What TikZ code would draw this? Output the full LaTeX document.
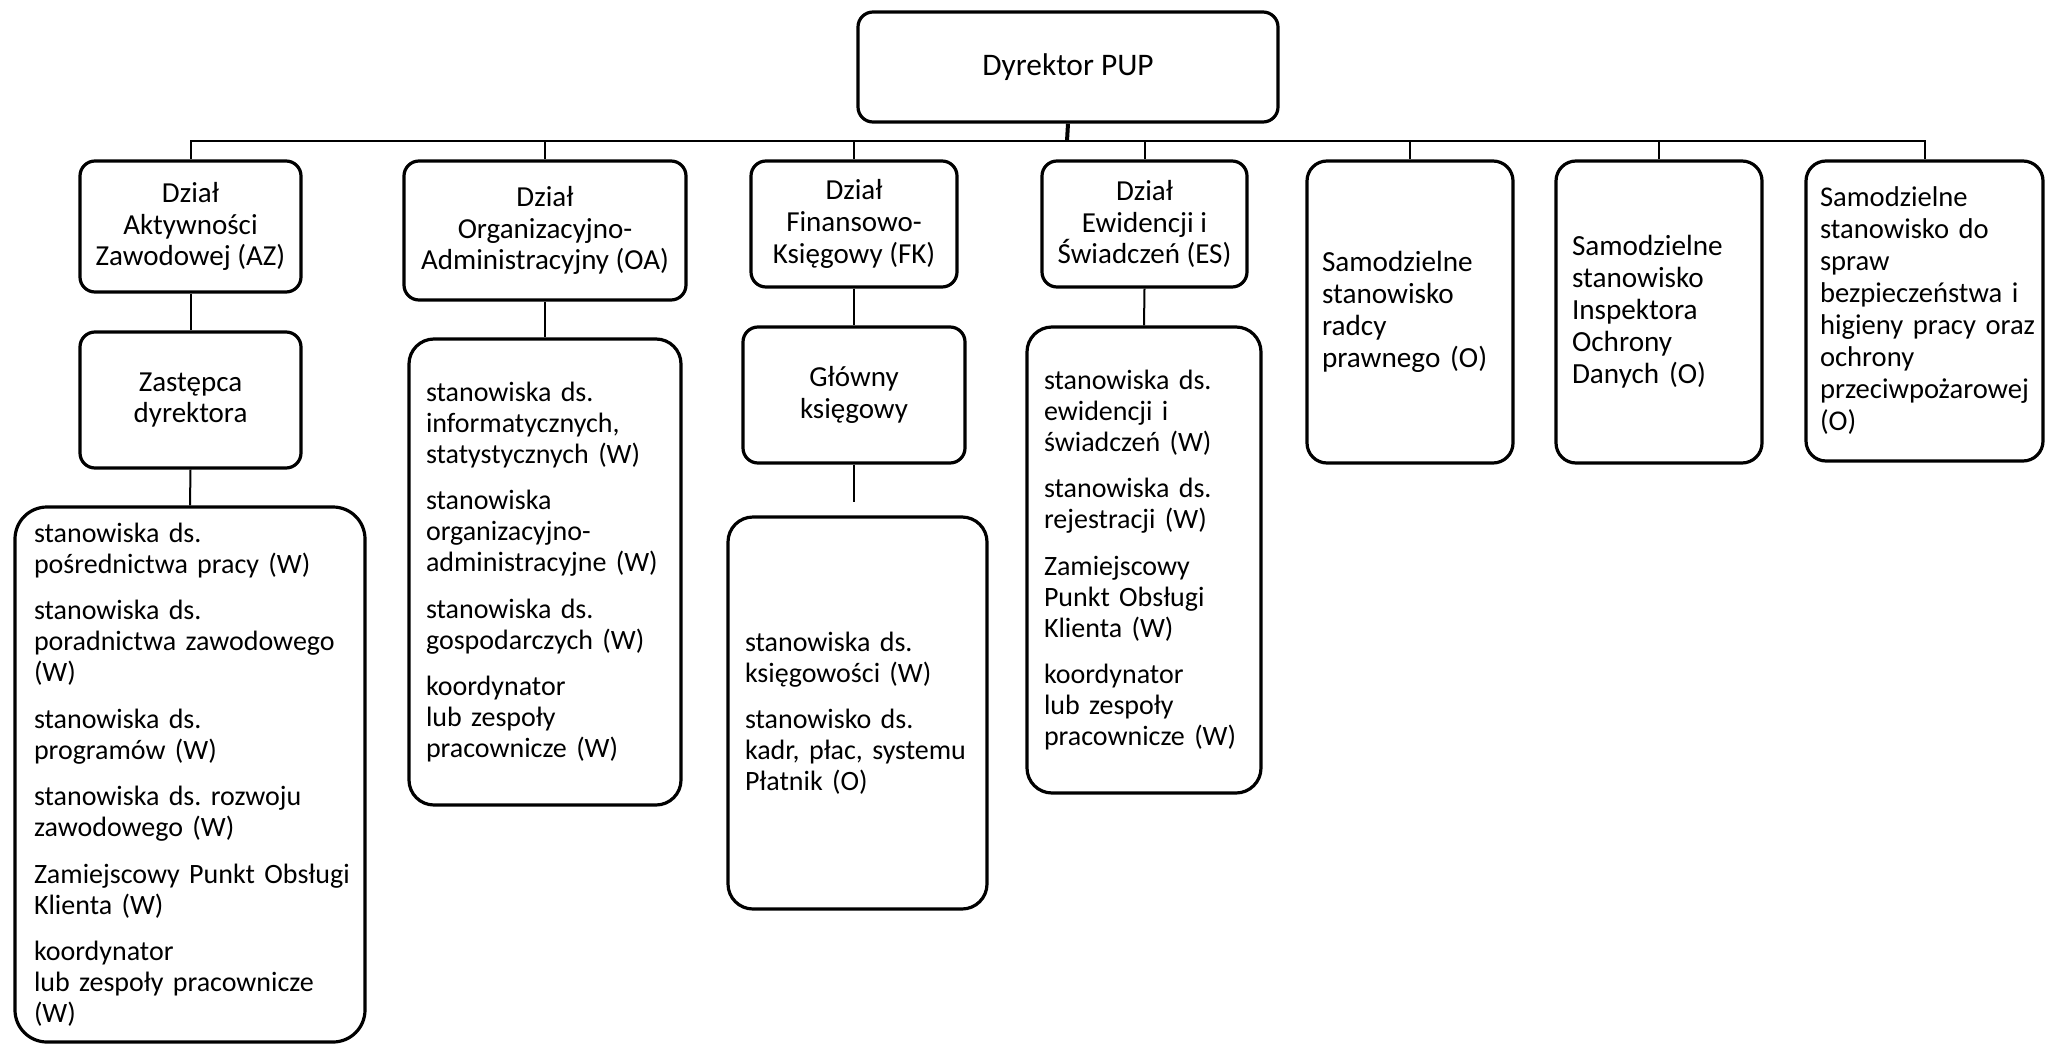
\documentclass[tikz,border=0pt]{standalone}
\usepackage{fontspec}
\setmainfont{Carlito}
\frenchspacing
\begin{document}
\begin{tikzpicture}[x=0.5pt,y=-0.5pt,
    every node/.style={font=\fontsize{14.5pt}{15.9pt}\selectfont},
    box/.style={draw, line width=1.6pt, rounded corners=7.5pt, align=center, inner sep=0pt},
    listbox/.style={box, align=left, inner xsep=8.5pt, rounded corners=12.5pt,
        font=\fontsize{14pt}{15.5pt}\selectfont,
        execute at begin node={\hyphenpenalty=10000\hfuzz=30pt\hbadness=10000}},
    lonebox/.style={listbox, rounded corners=10pt, font=\fontsize{14.6pt}{16pt}\selectfont},
    conn/.style={line width=1pt}]
    \useasboundingbox (0,0) rectangle (2045,1044);
    \node [box, minimum width=210pt, minimum height=55pt, font=\fontsize{15.7pt}{17pt}\selectfont] (dyr) at (1068,67) {Dyrektor PUP};
    \node [box, minimum width=110.5pt, minimum height=65.5pt] (azd) at (190.5,226.5) {Dział\\Aktywności\\Zawodowej~(AZ)};
    \node [box, minimum width=110.5pt, minimum height=68pt] (azz) at (190.5,400) {Zastępca\\dyrektora};
    \node [listbox, rounded corners=16pt, text width=156pt, minimum height=267.5pt, inner xsep=9.5pt] (azl) at (190,774.5)
        {stanowiska ds.\\pośrednictwa~pracy~(W)\\[7.75pt]
         stanowiska ds.\\poradnictwa~zawodowego\\(W)\\[7.75pt]
         stanowiska ds.\\programów (W)\\[7.75pt]
         stanowiska~ds.~rozwoju\\zawodowego (W)\\[7.75pt]
         Zamiejscowy~Punkt~Obsługi\\Klienta (W)\\[7.75pt]
         koordynator\\lub~zespoły~pracownicze\\(W)};
    \node [box, minimum width=141pt, minimum height=69.5pt] (oad) at (545,230.5) {Dział\\Organizacyjno-\\Administracyjny~(OA)};
    \node [listbox, text width=119pt, minimum height=233pt] (oal) at (545,572)
        {stanowiska ds.\\informatycznych,\\statystycznych~(W)\\[7.75pt]
         stanowiska\\organizacyjno-\\administracyjne~(W)\\[7.75pt]
         stanowiska ds.\\gospodarczych~(W)\\[7.75pt]
         koordynator\\lub zespoły\\pracownicze~(W)};
    \node [box, minimum width=103pt, minimum height=63pt] (fkd) at (854,224) {Dział\\Finansowo-\\Księgowy~(FK)};
    \node [box, minimum width=111pt, minimum height=68pt] (fkg) at (854,395) {Główny\\księgowy};
    \coordinate (fkend) at (854,502);
    \node [listbox, text width=112.5pt, minimum height=196pt] (fkl) at (857.5,713)
        {stanowiska ds.\\księgowości~(W)\\[7.75pt]
         stanowisko ds.\\kadr,~płac,~systemu\\Płatnik (O)};
    \node [box, minimum width=102.5pt, minimum height=63pt] (esd) at (1144.5,224) {Dział\\Ewidencji~i\\Świadczeń~(ES)};
    \node [listbox, text width=100pt, minimum height=233pt] (esl) at (1144,560)
        {stanowiska~ds.\\ewidencji~i\\świadczeń~(W)\\[7.75pt]
         stanowiska~ds.\\rejestracji~(W)\\[7.75pt]
         Zamiejscowy\\Punkt~Obsługi\\Klienta~(W)\\[7.75pt]
         koordynator\\lub~zespoły\\pracownicze~(W)};
    \node [lonebox, text width=88pt, minimum height=151pt, inner xsep=7.5pt] (rad) at (1410,312)
        {Samodzielne\\stanowisko\\radcy\\prawnego~(O)};
    \node [lonebox, text width=87pt, minimum height=151pt, inner xsep=8pt] (ins) at (1659,312)
        {Samodzielne\\stanowisko\\Inspektora\\Ochrony\\Danych~(O)};
    \node [lonebox, text width=104.5pt, minimum height=150pt, inner xsep=7pt, font=\fontsize{14.3pt}{16pt}\selectfont] (bhp) at (1924.5,311)
        {Samodzielne\\stanowisko~do\\spraw\\bezpieczeństwa~i\\higieny~pracy~oraz\\ochrony\\przeciwpożarowej\\(O)};
    \coordinate (bus) at (1067,141);
    \draw [line width=2pt] (dyr.south) -- (bus);
    \foreach \n in {azd,oad,fkd,esd,rad,ins,bhp}
        \draw [conn] (bus) -| (\n.north);
    \draw [conn] (azd.south) -- (azz.north);
    \draw [conn] (azz.south) -- (azl.north);
    \draw [conn] (oad.south) -- (oal.north);
    \draw [conn] (fkd.south) -- (fkg.north);
    \draw [conn] (fkg.south) -- (fkend);
    \draw [conn] (esd.south) -- (esl.north);
\end{tikzpicture}
\end{document}
